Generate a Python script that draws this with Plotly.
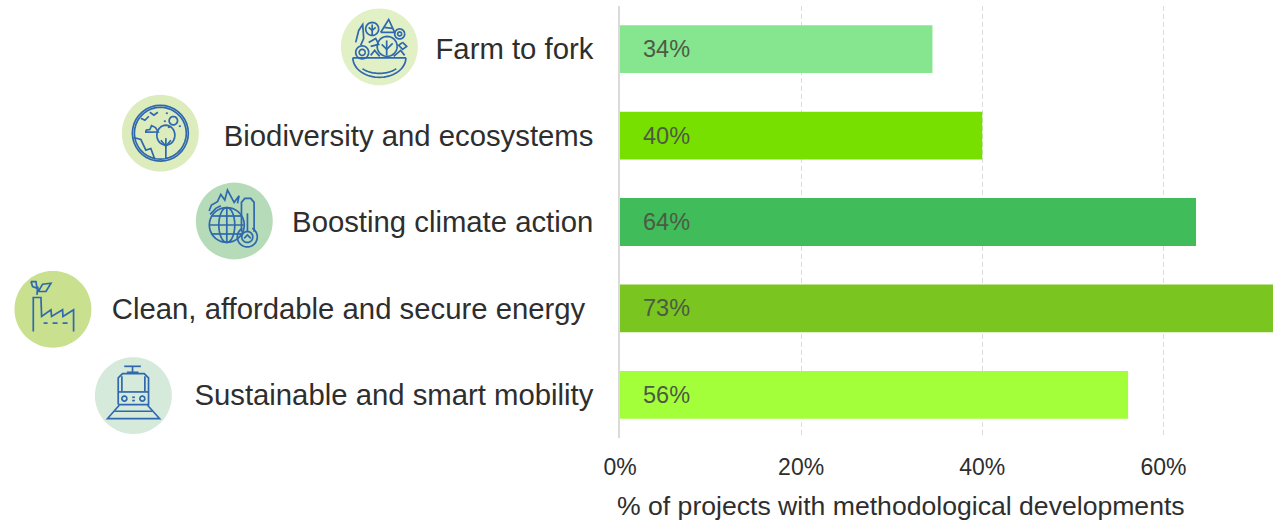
import math
import plotly.graph_objects as go

categories = ["Farm to fork", "Biodiversity and ecosystems", "Boosting climate action",
              "Clean, affordable and secure energy\u00a0", "Sustainable and smart mobility"]
values = [34.5, 40, 63.6, 73, 56.1]
value_labels = ["34%", "40%", "64%", "73%", "56%"]
bar_colors = ["#86E690", "#78E000", "#40BC5A", "#7AC520", "#A3FF3A"]
x_ticks = [0, 20, 40, 60]
x_tick_labels = ["0%", "20%", "40%", "60%"]
x_title = "% of projects with methodological developments"

W, H = 1273, 522
L, R, T, B = 619.5, 0, 5.5, 83.5
TEXT = "#2e2e2e"
BLUE = "#2F68AE"


def px(x):
    return (x - L) / (W - L - R)


def py(y):
    return 1 - (y - T) / (H - T - B)


def poly(points, close=False):
    s = "M " + " L ".join(f"{px(x):.5f},{py(y):.5f}" for x, y in points)
    return s + (" Z" if close else "")


def arc(cx, cy, r, a0=0, a1=360, ry=None, n=36):
    ry = r if ry is None else ry
    return [(cx + r * math.cos(math.radians(a0 + (a1 - a0) * i / n)),
             cy + ry * math.sin(math.radians(a0 + (a1 - a0) * i / n))) for i in range(n + 1)]


def badge(cx, cy, color, lines, width=1.7):
    out = [dict(type="path", xref="paper", yref="paper", path=poly(arc(cx, cy, 38.5, n=72), True),
                fillcolor=color, line=dict(width=0), layer="below")]
    for p in lines:
        out.append(dict(type="path", xref="paper", yref="paper", path=poly(p),
                        line=dict(color=BLUE, width=width), layer="above"))
    return out


def z(points, oy=0):
    return [(x / 3, y / 3 + oy) for x, y in points]


z2 = lambda pts: z(pts, 175)

farm = [
    [(352, 57.5), (405.5, 57.5)],
    arc(378.7, 57.5, 26.5, 0, 180, ry=19.5),
    arc(378.7, 60, 22, 40, 140, ry=13),
    arc(371.5, 28.5, 6.5), [(371.5, 24), (371.5, 35)], [(368, 27), (371.5, 30), (375, 27)],
    arc(386.5, 46, 10), [(386, 55), (386, 40)], [(381, 44), (386, 49), (392, 43)],
    arc(399, 33.5, 5), arc(399, 33.5, 2),
    arc(361.5, 52, 6.5), arc(361.5, 52, 3),
    [(380, 32), (388, 19), (394, 32), (380, 32)], [(383, 27), (392, 28)],
    [(355, 42), (358, 30), (362, 24), (363, 38), (360, 45)],
    [(368, 42), (375, 38), (378, 44), (370, 46)], [(402, 42), (406, 46), (402, 49), (398, 45), (402, 42)],
    [(370, 55), (374, 50), (379, 56)], [(393, 56), (400, 50), (404, 55)],
]
bio = [
    arc(159.5, 133, 28), arc(159.5, 133, 26),
    z([(398, 412), (420, 418), (435, 450), (450, 445), (462, 478)]),
    arc(165, 135, 9, 0, 360, ry=10), [(165, 158), (165, 138)], [(160, 140), (165, 146), (170, 140)],
    z([(435, 390), (447, 388), (452, 376), (464, 382), (472, 395), (435, 396), (435, 390)]),
    arc(172.5, 120.5, 4.2),
    [(140, 118), (144, 120), (148, 116)], [(149, 112), (153, 115), (157, 112)],
    [(165, 113), (167, 113)], [(163, 121), (165, 121)], [(167, 127), (169, 127)], [(178, 126), (180, 126)],
]
climate = [
    arc(226, 225, 17.5), arc(226, 225, 8, ry=17.5), [(226, 207.5), (226, 242.5)], [(208.5, 225), (243, 225)],
    [(211, 216), (241, 216)], [(211, 234), (241, 234)],
    z2([(625, 108), (632, 90), (650, 80), (660, 58), (672, 75), (680, 45), (700, 82), (715, 62), (710, 85)]),
    z2([(628, 118), (645, 100), (660, 92)]),
    z2([(722, 170), (722, 82), (732, 70), (750, 70), (760, 82), (760, 170)]),
    arc(246.5, 237, 10, -60, 240), arc(246.5, 237, 5.5),
    z2([(730, 190), (740, 180), (750, 190)]),
    z2([(740, 115), (740, 170)]),
]
clean = [
    z2([(97, 470), (97, 368), (120, 368), (122, 425), (150, 405), (152, 425), (185, 405), (186, 425),
        (218, 405), (218, 470)]),
    z2([(128, 445), (140, 445)]), z2([(155, 445), (170, 445)]), z2([(185, 445), (200, 445)]),
    z2([(108, 360), (110, 335), (112, 350), (135, 350), (150, 325), (125, 328), (112, 350)]),
    z2([(90, 320), (105, 320), (108, 340), (95, 335), (90, 320)]),
]
mobility = [
    z2([(370, 575), (420, 575)]), z2([(395, 575), (395, 593)]), z2([(378, 593), (413, 593)]),
    z2([(352, 690), (352, 610), (365, 597), (430, 597), (443, 610), (443, 690), (352, 690)]),
    z2([(363, 650), (363, 605)]), z2([(432, 650), (432, 605)]), z2([(352, 652), (443, 652)]),
    arc(123.5, 399, 2.5), arc(141.5, 399, 2.5),
    z2([(394, 668), (402, 668)]), z2([(394, 678), (402, 678)]),
    z2([(355, 692), (320, 732), (476, 732), (440, 692)]), z2([(340, 710), (455, 710)]),
]

shapes = (badge(378.7, 46.5, "#E2F0C6", farm) + badge(159.5, 133, "#DCECBD", bio) +
          badge(233.5, 221, "#B6DBB9", climate) + badge(52, 309.5, "#C9E08F", clean) +
          badge(132.5, 396, "#D6EADB", mobility))

fig = go.Figure(go.Bar(
    x=values, y=categories, orientation="h", width=0.553,
    marker=dict(color=bar_colors, line=dict(width=0)), hoverinfo="skip",
))

annotations = [dict(x=0, y=c, xref="x", yref="y", text=t, showarrow=False, xanchor="left",
                    xshift=21, font=dict(family="Liberation Sans", size=23.5, color="#4d5a45"))
               for c, t in zip(categories, value_labels)]
annotations.append(dict(x=px(900.5), y=py(507), xref="paper", yref="paper", text=x_title, showarrow=False,
                        xanchor="center", yanchor="middle",
                        font=dict(family="Liberation Sans", size=26.6, color=TEXT)))

fig.update_layout(
    width=W, height=H, autosize=False, margin=dict(l=L, r=R, t=T, b=B, pad=0),
    paper_bgcolor="white", plot_bgcolor="white", showlegend=False,
    shapes=shapes, annotations=annotations,
    font=dict(family="Liberation Sans", color=TEXT),
    xaxis=dict(range=[0, 72.1], tickvals=x_ticks, ticktext=x_tick_labels, showgrid=True,
               gridcolor="#dcdcdc", griddash="5px,3px", gridwidth=1.3, zeroline=False, showline=False,
               ticks="", ticklabelstandoff=13, tickfont=dict(size=23, color=TEXT), fixedrange=True),
    yaxis=dict(autorange="reversed", categoryorder="array", categoryarray=categories, showgrid=False,
               zeroline=False, showline=True, linecolor="#dadada", linewidth=1.5,
               ticks="", ticklabelstandoff=19, tickfont=dict(size=29.3, color=TEXT), fixedrange=True),
)
fig.write_html("out.html", config=dict(displayModeBar=False),
               post_script="document.body.style.margin='0';")
